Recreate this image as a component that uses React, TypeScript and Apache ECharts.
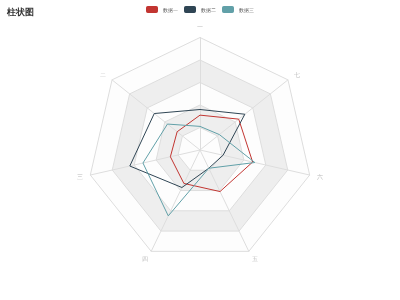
import React, { useEffect, useRef } from "react";
import * as echarts from "echarts";

const indicators = ["一", "二", "三", "四", "五", "六", "七"];
const maxValue = 100;
const seriesNames = ["数据一", "数据二", "数据三"];
const data1 = [31, 26, 27, 33, 41, 48, 44];
const data2 = [36, 52, 64, 37, 18, 21, 51];
const data3 = [21, 37, 52, 65, 18, 50, 22];
const colors = ["#c23531", "#2f4554", "#61a0a8"];

export default function App() {
  const ref = useRef<HTMLDivElement>(null);
  useEffect(() => {
    if (!ref.current) return;
    const chart = echarts.init(ref.current, null, { renderer: "svg" });
    chart.setOption({
      animation: false,
      color: colors,
      title: {
        text: "柱状图",
        left: 2,
        top: 2,
        textStyle: { fontSize: 9, fontWeight: "bold", color: "#333" },
      },
      legend: {
        data: seriesNames,
        top: 1,
        left: "center",
        itemWidth: 12,
        itemHeight: 7,
        itemGap: 6,
        textStyle: { fontSize: 5, color: "#555" },
      },
      radar: {
        center: ["50%", "50%"],
        radius: "75%",
        nameGap: 8,
        splitNumber: 5,
        indicator: indicators.map((n) => ({ name: n, max: maxValue })),
        axisName: { color: "#bbb", fontSize: 6 },
        axisLine: { lineStyle: { color: "#ddd" } },
        splitLine: { lineStyle: { color: "#ddd" } },
        splitArea: {
          show: true,
          areaStyle: { color: ["rgba(250,250,250,0.3)", "rgba(200,200,200,0.3)"] },
        },
      },
      series: [
        {
          type: "radar",
          symbol: "none",
          lineStyle: { width: 1 },
          data: [
            { name: seriesNames[0], value: data1 },
            { name: seriesNames[1], value: data2 },
            { name: seriesNames[2], value: data3 },
          ],
        },
      ],
    });
    return () => chart.dispose();
  }, []);
  return (
    <div
      ref={ref}
      style={{ position: "fixed", left: 0, top: 0, width: 400, height: 300 }}
    />
  );
}
